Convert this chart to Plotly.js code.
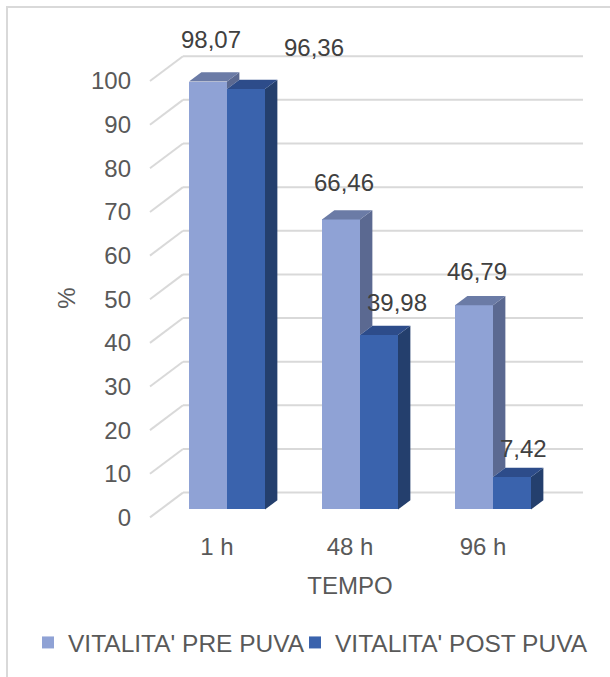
<!DOCTYPE html>
<html>
<head>
<meta charset="utf-8">
<script src="https://cdn.plot.ly/plotly-3.0.1.min.js"></script>
<style>
  html, body { margin: 0; padding: 0; background: #ffffff; }
  #chart { width: 610px; height: 677px; }
</style>
</head>
<body>
<div id="chart"></div>
<script>
// Chart data
const categories = ['1 h', '48 h', '96 h'];
const seriesNames = ["VITALITA' PRE PUVA", "VITALITA' POST PUVA"];
const preValues = [98.07, 66.46, 46.79];
const postValues = [96.36, 39.98, 7.42];
const yTicks = [0, 10, 20, 30, 40, 50, 60, 70, 80, 90, 100];

// Pseudo-3D geometry, in axis units
const BAR_W = 0.2857;     // width of one bar front
const DEPTH_X = 0.093;    // horizontal depth of a bar
const DEPTH_Y = 2.12;     // vertical depth of a bar
const WALL_DY = 3.87;     // back wall offset above the bar fronts
const EDGE_DY = -1.82;    // front edge of the side wall
const WALL_X0 = -0.331;   // left end of the back wall
const EDGE_X0 = -0.579;   // front end of the side wall
const WALL_X1 = 2.677;    // right end of the back wall

// Plot area in pixels; the category axis sits above its bottom edge
const PLOT_L = 117, PLOT_W = 466, PLOT_T = 20, PLOT_H = 560;
const AXIS_Y_PX = 530;
const X_RANGE = [-0.8271, 2.6767];
const Y_RANGE = [-15.245, 112.17];
const PX_PER_UNIT = PLOT_H / (Y_RANGE[1] - Y_RANGE[0]);

const colors = {
  preFront: '#8FA2D5', preTop: '#6B7BA6', preSide: '#5B6991',
  postFront: '#3A63AD', postTop: '#2D4C8A', postSide: '#243F6D'
};
const FONT = 'Liberation Sans, Arial, Helvetica, sans-serif';
const TEXT_GREY = '#595959';

function fmt(v) { return v.toFixed(2).replace('.', ','); }
function paperX(px) { return (px - PLOT_L) / PLOT_W; }
function paperY(px) { return 1 - (px - PLOT_T) / PLOT_H; }

function face(xs, ys, color) {
  return {
    type: 'scatter', mode: 'lines', x: xs.concat([xs[0]]), y: ys.concat([ys[0]]),
    fill: 'toself', fillcolor: color, line: { width: 0, color: color },
    hoverinfo: 'skip', showlegend: false
  };
}

const traces = [];

// Bar fronts (these carry the legend entries)
traces.push({
  type: 'bar', name: seriesNames[0], legend: 'legend',
  x: categories.map((c, i) => i - BAR_W / 2), y: preValues, width: BAR_W,
  marker: { color: colors.preFront, line: { width: 0 } }, hoverinfo: 'skip'
});
traces.push({
  type: 'bar', name: seriesNames[1], legend: 'legend2',
  x: categories.map((c, i) => i + BAR_W / 2), y: postValues, width: BAR_W,
  marker: { color: colors.postFront, line: { width: 0 } }, hoverinfo: 'skip'
});

// Top and side faces of each bar, drawn back to front
categories.forEach((c, i) => {
  const vp = preValues[i], vq = postValues[i];
  // pre bar: only the part of its side above the neighbouring bar shows
  const a0 = i - BAR_W, a1 = i;
  if (vp > vq) {
    traces.push(face([a1, a1 + DEPTH_X, a1 + DEPTH_X, a1],
                     [vp, vp + DEPTH_Y, vq + DEPTH_Y, vq], colors.preSide));
  }
  traces.push(face([a0, a1, a1 + DEPTH_X, a0 + DEPTH_X],
                   [vp, vp, vp + DEPTH_Y, vp + DEPTH_Y], colors.preTop));
  // post bar
  const b0 = i, b1 = i + BAR_W;
  traces.push(face([b1, b1, b1 + DEPTH_X, b1 + DEPTH_X],
                   [0, vq, vq + DEPTH_Y, DEPTH_Y], colors.postSide));
  traces.push(face([b0, b1, b1 + DEPTH_X, b0 + DEPTH_X],
                   [vq, vq, vq + DEPTH_Y, vq + DEPTH_Y], colors.postTop));
});

// Back wall gridlines and side wall edges
const shapes = [];
yTicks.forEach(t => {
  const line = { color: '#D9D9D9', width: 2 };
  shapes.push({ type: 'line', xref: 'x', yref: 'y', layer: 'below',
    x0: WALL_X0, x1: WALL_X1, y0: t + WALL_DY, y1: t + WALL_DY, line: line });
  shapes.push({ type: 'line', xref: 'x', yref: 'y', layer: 'below',
    x0: EDGE_X0, x1: WALL_X0, y0: t + EDGE_DY, y1: t + WALL_DY, line: line });
});
// Chart frame
shapes.push({ type: 'rect', xref: 'paper', yref: 'paper',
  x0: paperX(7), x1: paperX(640), y0: paperY(700), y1: paperY(7),
  line: { color: '#D9D9D9', width: 2 }, fillcolor: 'rgba(0,0,0,0)' });

// Value labels
function labelLift(v) { return 27 + 0.15 * v; }
const labelFont = { family: FONT, size: 24, color: '#404040' };
const annotations = [];
categories.forEach((c, i) => {
  const vp = preValues[i], vq = postValues[i];
  annotations.push({
    xref: 'x', yref: 'y', x: i - BAR_W / 2 + DEPTH_X / 2, y: vp,
    xshift: -3, yshift: labelLift(vp), xanchor: 'center', yanchor: 'middle',
    text: fmt(vp), showarrow: false, font: labelFont
  });
  // move the second label clear of the first when they would overlap
  const gapPx = (vp - vq) * PX_PER_UNIT + labelLift(vp) - labelLift(vq);
  const clash = Math.abs(gapPx) < 24;
  annotations.push({
    xref: 'x', yref: 'y', x: clash ? i + BAR_W + DEPTH_X : i, y: vq,
    xshift: 5, yshift: labelLift(vq), xanchor: 'left', yanchor: 'middle',
    text: fmt(vq), showarrow: false, font: labelFont
  });
});

const legendBase = {
  orientation: 'h', xanchor: 'left', y: paperY(647), yanchor: 'middle',
  font: { family: FONT, size: 24.5, color: TEXT_GREY },
  itemwidth: 30, bgcolor: 'rgba(0,0,0,0)', borderwidth: 0
};

const layout = {
  width: 610, height: 677,
  margin: { l: PLOT_L, r: 610 - PLOT_L - PLOT_W, t: PLOT_T, b: 677 - PLOT_T - PLOT_H, pad: 0 },
  paper_bgcolor: '#ffffff', plot_bgcolor: 'rgba(0,0,0,0)',
  font: { family: FONT, size: 24, color: TEXT_GREY },
  barmode: 'overlay', bargap: 0,
  xaxis: {
    range: X_RANGE, fixedrange: true, anchor: 'free', position: paperY(AXIS_Y_PX),
    tickvals: categories.map((c, i) => i - 0.075), ticktext: categories,
    ticks: '', showline: false, showgrid: false, zeroline: false,
    ticklabelstandoff: 4,
    tickfont: { family: FONT, size: 24, color: TEXT_GREY },
    title: { text: 'TEMPO', font: { family: FONT, size: 24, color: TEXT_GREY }, standoff: 17 },
    automargin: false
  },
  yaxis: {
    range: Y_RANGE, fixedrange: true, anchor: 'free', position: paperX(150),
    tickvals: yTicks.map(t => t + EDGE_DY), ticktext: yTicks.map(String),
    ticks: '', showline: false, showgrid: false, zeroline: false,
    ticklabelstandoff: 19,
    tickfont: { family: FONT, size: 24, color: TEXT_GREY },
    title: { text: '%', font: { family: FONT, size: 24, color: TEXT_GREY }, standoff: 7 },
    automargin: false
  },
  showlegend: true,
  legend: Object.assign({}, legendBase, { x: paperX(28) }),
  legend2: Object.assign({}, legendBase, { x: paperX(295) }),
  shapes: shapes,
  annotations: annotations
};

Plotly.newPlot('chart', traces, layout, { displayModeBar: false, staticPlot: true });
</script>
</body>
</html>
